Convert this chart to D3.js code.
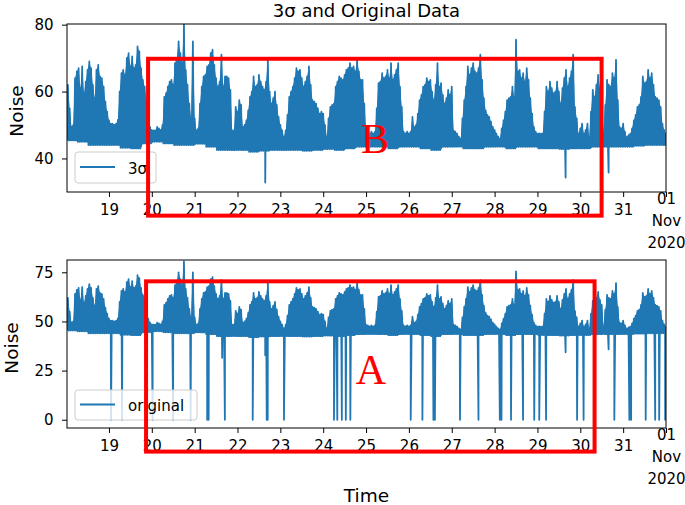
<!DOCTYPE html>
<html>
<head>
<meta charset="utf-8">
<script src="https://cdn.jsdelivr.net/npm/d3@7"></script>
<style>
  body { margin: 0; background: #fff; }
</style>
</head>
<body>
<svg id="chart" width="685" height="505" font-family='"DejaVu Sans", sans-serif'></svg>
<script>
// hourly upper envelope of the noise signal, Oct 18 00:30 -> Nov 1 00:00 (one row per day)
const hourlyHigh = [
  62, 55, 49.5, 50, 64, 66, 67, 61, 67.5, 59.5, 63, 66.5, 69, 67, 62, 58, 66.5, 68, 64.5, 64, 61.5, 57, 54, 51.4,
  50.4, 50.4, 50, 50.4, 51.5, 60, 65.5, 66.5, 65, 70, 71.5, 67.5, 70.5, 67, 68, 73.5, 72, 67, 63.5, 61.5, 57.4, 51.4, 49.4, 48.5,
  48.4, 48.4, 49.4, 49, 48.5, 50, 58.4, 59.5, 61.5, 63, 63.5, 62, 68.5, 70, 75, 71.5, 68.5, 80.5, 66.5, 62, 56.4, 52, 75, 52,
  48.4, 49, 56.4, 61.5, 64.5, 65, 67.5, 68, 71.5, 72.5, 68, 64, 61.5, 63, 71, 61.5, 64.5, 64.5, 64, 60.5, 48.4, 48.4, 55.4, 54,
  57.4, 56, 49.4, 50, 51.4, 54.4, 58.4, 60, 64.5, 61.5, 62, 65, 63, 61.5, 60.5, 63, 69.5, 60, 56.4, 58, 60, 56, 52.4, 50,
  48.4, 46.4, 48.4, 53, 58.4, 60, 61.5, 64, 67, 66, 66.5, 64, 61.5, 63, 64.5, 67.5, 62, 57.4, 57, 56.4, 55, 53.4, 54, 53.4,
  50, 46.4, 52, 55.4, 56, 56.4, 61.5, 63, 64.5, 64, 63.5, 65, 66.5, 67, 68.5, 67, 67.5, 66, 69.5, 66, 63.5, 63.5, 56.4, 48.4,
  48, 47.5, 48, 47.5, 48, 55, 62.5, 63, 65.5, 64, 64.5, 66.5, 64, 68.5, 63.5, 65, 66.5, 68.5, 61.5, 55.4, 48, 47.5, 48, 47.5,
  48, 52.4, 49.4, 50, 53.4, 57.4, 59, 61.5, 62, 64, 63, 63.5, 60, 57.4, 62, 68.5, 61.5, 62.5, 59, 56.4, 58, 60.5, 59, 61.5,
  48.4, 48, 47.4, 46.5, 45.9, 52, 57.4, 61.5, 67.5, 65, 67, 68.5, 66, 65.5, 67, 71, 63.5, 58, 54.4, 53, 52.4, 51, 49.4, 48.5,
  47.4, 46.5, 45.9, 49, 51.4, 54, 57.4, 58, 58.4, 61.5, 58.4, 75.5, 66, 66.5, 64, 65.5, 63, 67, 63.5, 58, 53.4, 49.4, 48, 47.4,
  47.5, 47.4, 47.5, 54, 61.5, 60, 63, 61, 59.5, 60, 63, 60, 56.4, 61, 64, 66.5, 61.5, 64, 66, 71, 55.4, 52, 47.4, 49,
  50.4, 47.4, 48.5, 50.4, 46.4, 54, 60.5, 58.4, 62, 65, 61, 58.4, 47.4, 56, 63.5, 62, 61.5, 65.5, 64, 69.5, 57.4, 49.4, 49, 50.4,
  48, 46.4, 47, 47.4, 49, 51.4, 53, 55.4, 56, 58.4, 64.5, 62.5, 63, 66.5, 64, 65.5, 62, 58.4, 58, 57.4, 55.4, 50.4, 48.5, 47.4
];
// lower envelope, one value per 6 hours
const sixHourLow = [
  45.4, 45, 44, 44,   44, 43.2, 43, 44.5,   45, 44.5, 44, 44,   44.4, 43.5, 42.5, 42.5,
  42.5, 42, 42.3, 42.5,   42.5, 42.5, 42.3, 42.5,   42.8, 42.5, 43, 43.5,   43.5, 43.5, 43, 43.5,
  43.5, 43, 42.5, 43.5,   43.5, 43, 43, 43.5,   43.5, 43, 43.5, 43.5,   43, 43, 42.8, 43,
  43, 43.5, 43.5, 43.5,   43.5, 43.8, 44, 44
];
// short dips kept by the 3σ filter (day of October, value)
const dipDays = [22.647, 29.657, 30.661];
const dipValues = [32.8, 34.3, 35.8];
// extra partial dip only in the original data
const origDipDays = [21.642];
const origDipValues = [31.5];
// dropouts to zero in the original data (day of October)
const dropDays = [
  19.049, 19.306, 20.018, 20.498, 20.906, 21.292, 21.327, 21.705, 22.355, 22.682, 22.705, 23.084,
  24.252, 24.329, 24.435, 24.528, 24.633, 26.042, 26.315, 26.572, 26.607, 27.192, 27.624,
  28.122, 28.161, 28.383, 28.664, 28.925, 29.042, 29.201, 29.925, 30.077, 30.794,
  31.145, 31.187, 31.526, 31.748, 31.841, 31.981
];
const startDay = 18.0208;
const endDay = 32;
const tickDays = [19, 20, 21, 22, 23, 24, 25, 26, 27, 28, 29, 30, 31, 32];
const tickLabels = ["19", "20", "21", "22", "23", "24", "25", "26", "27", "28", "29", "30", "31", "01"];
const lastTickLines = ["01", "Nov", "2020"];
const seriesNames = ["3σ", "original"];
const topTicks = [40, 60, 80];
const bottomTicks = [0, 25, 50, 75];
// annotation boxes in data units: [day from, day to, value top, value bottom]
const boxB = [19.913, 30.497, 69.8, 22.9];
const boxA = [19.866, 30.333, 70.4, -16.2];

const blue = '#1f77b4';
const dayToDate = d => new Date(Date.UTC(2020, 9, 1) + (d - 1) * 864e5);

const svg = d3.select('#chart');
const left = 67, right = 666;

const xScale = d3.scaleUtc()
  .domain([dayToDate(startDay), dayToDate(endDay)])
  .range([left, right]);

// body of the signal: one point per hour, from the low to the high envelope
const body = hourlyHigh.map((h, i) => ({
  t: startDay + i / 24 + 1 / 48,
  lo: sixHourLow[Math.floor(i / 6)],
  hi: h
}));

// line: low then high inside each hour
const base = [];
hourlyHigh.forEach((h, i) => {
  base.push({ t: startDay + i / 24, v: sixHourLow[Math.floor(i / 6)] });
  base.push({ t: startDay + i / 24 + 1 / 48, v: h });
});
const sigmaSeries = base.concat(dipDays.map((d, i) => ({ t: d, v: dipValues[i] })))
  .sort((a, b) => a.t - b.t);
const origSeries = sigmaSeries
  .concat(origDipDays.map((d, i) => ({ t: d, v: origDipValues[i] })))
  .concat(dropDays.map(d => ({ t: d, v: 0 })))
  .sort((a, b) => a.t - b.t);

const panels = [
  { top: 24, bottom: 192, domain: [29.97, 80.2], ticks: topTicks, data: sigmaSeries, name: seriesNames[0],
    labelX: 16, labelY: 111, legend: { x: 75, y: 152, w: 81, h: 31 }, box: boxB, letter: 'B', letterPos: [375, 153] },
  { top: 260, bottom: 428, domain: [-4.2, 81.25], ticks: bottomTicks, data: origSeries, name: seriesNames[1],
    labelX: 11, labelY: 348, legend: { x: 75, y: 390, w: 122, h: 30 }, box: boxA, letter: 'A', letterPos: [371, 384] }
];

panels.forEach((p, k) => {
  const yScale = d3.scaleLinear().domain(p.domain).range([p.bottom, p.top]);
  const g = svg.append('g');

  g.append('clipPath').attr('id', 'clip' + k)
    .append('rect')
      .attr('x', left).attr('y', p.top)
      .attr('width', right - left).attr('height', p.bottom - p.top);

  const area = d3.area()
    .x(d => xScale(dayToDate(d.t)))
    .y0(d => yScale(d.lo))
    .y1(d => yScale(d.hi));

  const line = d3.line()
    .x(d => xScale(dayToDate(d.t)))
    .y(d => yScale(d.v));

  g.append('path')
    .datum(body)
    .attr('clip-path', `url(#clip${k})`)
    .attr('fill', blue)
    .attr('d', area);

  g.append('path')
    .datum(p.data)
    .attr('clip-path', `url(#clip${k})`)
    .attr('fill', 'none')
    .attr('stroke', blue)
    .attr('stroke-width', 1.8)
    .attr('stroke-linejoin', 'round')
    .attr('d', line);

  // axes
  const xAxis = d3.axisBottom(xScale)
    .tickValues(tickDays.map(dayToDate))
    .tickFormat((d, i) => tickLabels[i])
    .tickSize(5).tickSizeOuter(0).tickPadding(7);
  const xg = g.append('g')
    .attr('transform', `translate(0,${p.bottom})`)
    .call(xAxis);
  xg.select('.domain').remove();
  xg.selectAll('text').attr('font-size', 15).attr('fill', '#000')
    .attr('font-family', '"DejaVu Sans", sans-serif');
  xg.selectAll('.tick').filter((d, i) => i === tickDays.length - 1)
    .select('text')
    .text(null)
    .selectAll('tspan')
    .data(lastTickLines)
    .enter().append('tspan')
      .attr('x', 0)
      .attr('dy', (d, i) => i === 0 ? 0 : '1.45em')
      .text(d => d);

  const yAxis = d3.axisLeft(yScale)
    .tickValues(p.ticks)
    .tickSize(5).tickSizeOuter(0).tickPadding(8.5);
  const yg = g.append('g')
    .attr('transform', `translate(${left},0)`)
    .call(yAxis);
  yg.select('.domain').remove();
  yg.selectAll('text').attr('font-size', 15).attr('fill', '#000')
    .attr('font-family', '"DejaVu Sans", sans-serif');

  // frame
  g.append('rect')
    .attr('x', left).attr('y', p.top)
    .attr('width', right - left).attr('height', p.bottom - p.top)
    .attr('fill', 'none').attr('stroke', '#000').attr('stroke-width', 1);

  g.append('text')
    .attr('transform', `translate(${p.labelX + 7},${p.labelY}) rotate(-90)`)
    .attr('text-anchor', 'middle')
    .attr('font-size', 18.5)
    .text('Noise');

  // legend
  const lg = g.append('g');
  lg.append('rect')
    .attr('x', p.legend.x).attr('y', p.legend.y)
    .attr('width', p.legend.w).attr('height', p.legend.h)
    .attr('rx', 3)
    .attr('fill', '#fff').attr('fill-opacity', 0.8)
    .attr('stroke', '#cccccc').attr('stroke-width', 1);
  lg.append('line')
    .attr('x1', p.legend.x + 5).attr('x2', p.legend.x + 40)
    .attr('y1', p.legend.y + p.legend.h / 2 - 0.5).attr('y2', p.legend.y + p.legend.h / 2 - 0.5)
    .attr('stroke', blue).attr('stroke-width', 2);
  lg.append('text')
    .attr('x', p.legend.x + 53)
    .attr('y', p.legend.y + p.legend.h / 2 + 6)
    .attr('font-size', 15)
    .text(p.name);

  // red annotation
  const b = p.box;
  g.append('rect')
    .attr('x', xScale(dayToDate(b[0])))
    .attr('y', yScale(b[2]))
    .attr('width', xScale(dayToDate(b[1])) - xScale(dayToDate(b[0])))
    .attr('height', yScale(b[3]) - yScale(b[2]))
    .attr('fill', 'none').attr('stroke', '#ff0000').attr('stroke-width', 4);
  g.append('text')
    .attr('x', p.letterPos[0]).attr('y', p.letterPos[1])
    .attr('text-anchor', 'middle')
    .style('font-family', '"Liberation Serif", "DejaVu Serif", serif')
    .attr('font-size', 42)
    .attr('fill', '#ff0000')
    .text(p.letter);
});

svg.append('text')
  .attr('x', (left + right) / 2).attr('y', 17)
  .attr('text-anchor', 'middle')
  .attr('font-size', 18)
  .text('3σ and Original Data');

svg.append('text')
  .attr('x', (left + right) / 2).attr('y', 502)
  .attr('text-anchor', 'middle')
  .attr('font-size', 18.5)
  .text('Time');
</script>
</body>
</html>
